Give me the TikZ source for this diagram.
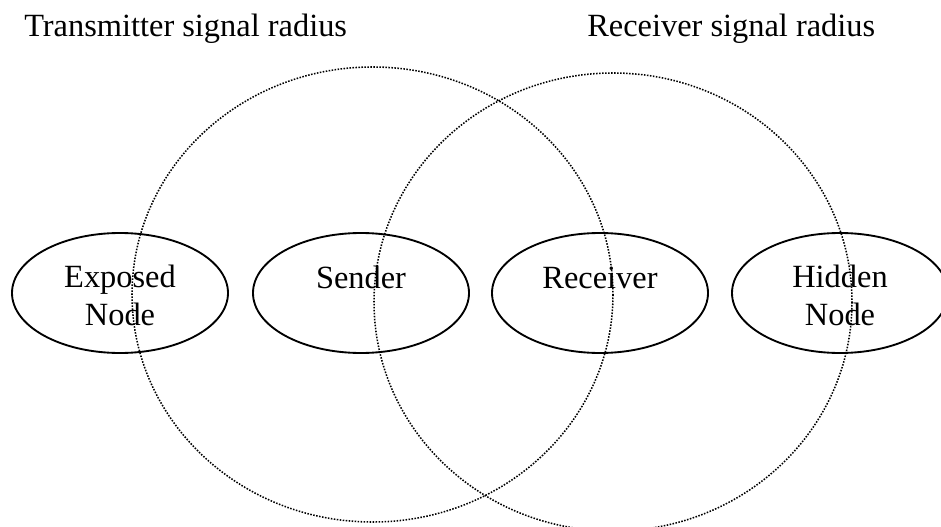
\documentclass[tikz,border=0pt]{standalone}
\usepackage{fontspec}
\setmainfont{Liberation Serif}
\usetikzlibrary{shapes.geometric}
\begin{document}
\begin{tikzpicture}[x=0.75pt, y=-0.75pt,
  coverage/.style={line width=1.15pt, dash pattern=on 1.15pt off 1.1pt},
  station/.style={draw, ellipse, line width=1.4pt, inner sep=0pt,
                  minimum width=162pt, minimum height=90pt},
  caption/.style={font=\fontsize{24.3}{28.5}\selectfont, inner sep=0pt},
]
\clip (0,0) rectangle (941,527);

% signal ranges of the two stations
\draw[coverage] (372.5,294.5) ellipse [x radius=240.5, y radius=227.5];
\draw[coverage] (613,302) ellipse [x radius=239, y radius=229];

% the four stations
\node[station] (exposed)  at (120,293) {};
\node[station] (sender)   at (361,293) {};
\node[station] (receiver) at (600,293) {};
\node[station] (hidden)   at (840,293) {};

% station names, set from the top line of each box
\node[caption, anchor=base] (exposedtxt) at (120,287)
  {\setlength{\tabcolsep}{0pt}\begin{tabular}[t]{c}Exposed\\Node\end{tabular}};
\node[caption, anchor=base] (sendertxt) at (361,288) {Sender};
\node[caption, anchor=base] (receivertxt) at (600,288) {Receiver};
\node[caption, anchor=base] (hiddentxt) at (840,287)
  {\setlength{\tabcolsep}{0pt}\begin{tabular}[t]{c}Hidden\\Node\end{tabular}};

% range captions
\node[caption, anchor=base west] (txlabel) at (24,37) {Transmitter signal radius};
\node[caption, anchor=base west] (rxlabel) at (587,37) {Receiver signal radius};
\end{tikzpicture}
\end{document}
